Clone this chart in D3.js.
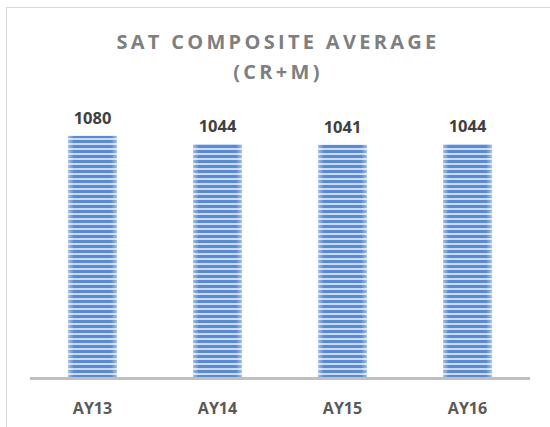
<!DOCTYPE html>
<html><head><meta charset="utf-8">
<script src="https://cdn.jsdelivr.net/npm/d3@7"></script>
<style>body{margin:0;background:#fff}svg{display:block}</style>
</head><body>
<script>
const categories = ["AY13","AY14","AY15","AY16"];
const values = [1080,1044,1041,1044];
const titleLines = ["SAT COMPOSITE AVERAGE","(CR+M)"];

const W=550,H=427;
const svg=d3.select("body").append("svg").attr("width",W).attr("height",H);
const defs=svg.append("defs");
const pat=defs.append("pattern").attr("id","stripes").attr("patternUnits","userSpaceOnUse")
  .attr("width",10).attr("height",5);
pat.append("rect").attr("width",10).attr("height",5).attr("fill","#c9daf2");
pat.append("rect").attr("y",0).attr("width",10).attr("height",3).attr("fill","#5a8ad0");
const grad=defs.append("linearGradient").attr("id","edge").attr("x1","0").attr("x2","1").attr("y1","0").attr("y2","0");
grad.append("stop").attr("offset","0").attr("stop-color","#fff").attr("stop-opacity",0.45);
grad.append("stop").attr("offset","0.12").attr("stop-color","#fff").attr("stop-opacity",0);
grad.append("stop").attr("offset","0.88").attr("stop-color","#fff").attr("stop-opacity",0);
grad.append("stop").attr("offset","1").attr("stop-color","#fff").attr("stop-opacity",0.45);

// chart border
svg.append("rect").attr("x",6.5).attr("y",7.5).attr("width",W).attr("height",H)
  .attr("fill","none").attr("stroke","#d9d9d9").attr("stroke-width",1);

const x=d3.scaleBand().domain(categories).range([30,530]).paddingInner(0.61).paddingOuter(0.305);
const y=d3.scaleLinear().domain([0,1200]).range([378,109]);

const g=svg.append("g");
g.selectAll("rect.bar").data(values).join("rect").attr("class","bar")
  .attr("x",(d,i)=>x(categories[i])).attr("width",x.bandwidth())
  .attr("y",d=>y(d)).attr("height",d=>y(0)-y(d)).attr("fill","url(#stripes)");
g.selectAll("rect.edge").data(values).join("rect").attr("class","edge")
  .attr("x",(d,i)=>x(categories[i])).attr("width",x.bandwidth())
  .attr("y",d=>y(d)).attr("height",d=>y(0)-y(d)).attr("fill","url(#edge)");

g.selectAll("text.val").data(values).join("text").attr("class","val")
  .attr("x",(d,i)=>x(categories[i])+x.bandwidth()/2).attr("y",d=>y(d)-12)
  .attr("text-anchor","middle").attr("font-family","Open Sans, sans-serif")
  .attr("font-weight","bold").attr("font-size",16.5).attr("fill","#404040").text(d=>d);

const xAxis=d3.axisBottom(x).tickSize(0).tickPadding(25);
const ax=svg.append("g").attr("transform",`translate(0,${y(0)})`).call(xAxis);
ax.select(".domain").attr("stroke","#bfbfbf").attr("stroke-width",3).attr("d","M30,0.5H530");
ax.selectAll("text").attr("font-family","Open Sans, sans-serif").attr("font-weight","bold")
  .attr("font-size",16).attr("fill","#595959");

svg.selectAll("text.title").data(titleLines).join("text").attr("class","title")
  .attr("x",278).attr("y",(d,i)=>49+i*30).attr("text-anchor","middle")
  .attr("font-family","Open Sans, sans-serif").attr("font-weight","bold").attr("font-size",20)
  .attr("letter-spacing",3.3).attr("fill","#7f7f7f").text(d=>d);
</script>
</body></html>
